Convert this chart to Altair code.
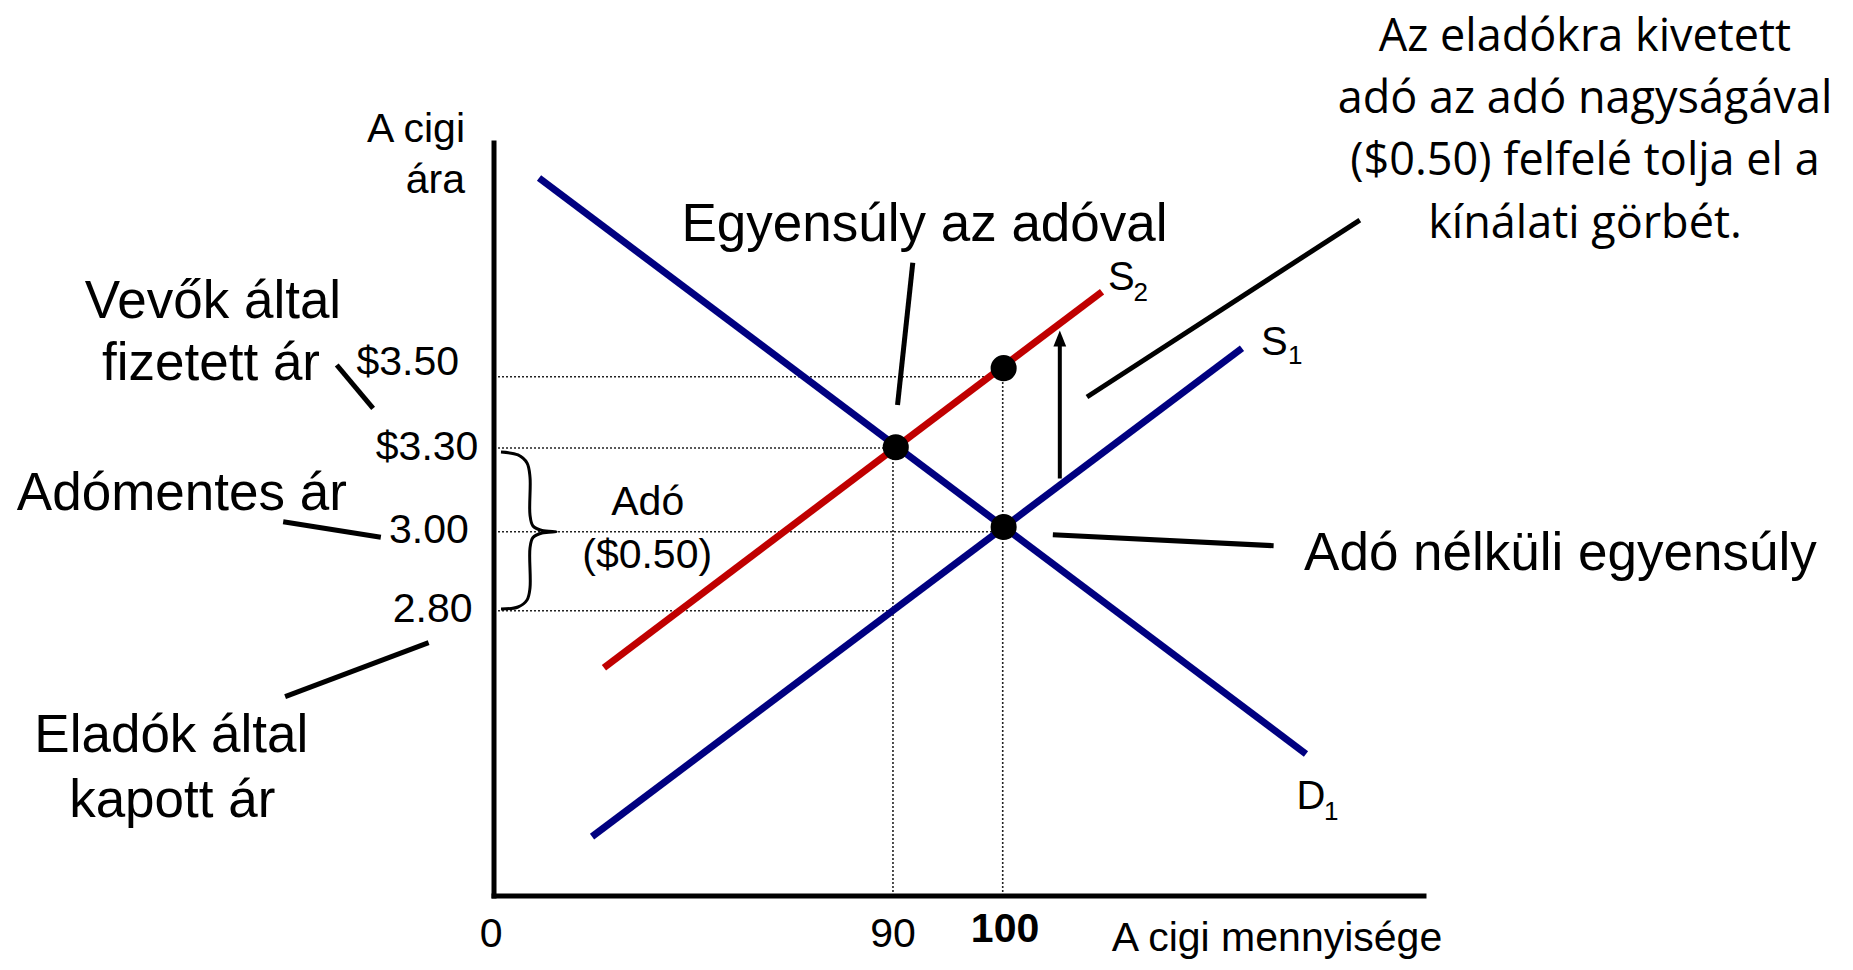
import altair as alt
import pandas as pd

# ---------------- data (diagram units: axis origin = 0, axis ends = 100) ----------------
curve_names = ["D1", "S1", "S2"]
curve_x0 = [4.84, 10.54, 11.82]
curve_y0 = [95.35, 7.88, 30.32]
curve_x1 = [87.31, 80.43, 65.38]
curve_y1 = [18.86, 72.75, 80.25]
curve_colors = ["#000080", "#000080", "#c00000"]

# price levels (dotted horizontal guides)
price_labels = ["$3.50", "$3.30", "3.00", "2.80"]
price_level = [68.96, 59.5, 48.38, 37.89]
price_guide_end = [54.7, 42.9, 54.7, 42.9]
price_label_x = [-3.76, -1.68, -2.71, -2.30]
price_label_y = [69.19, 57.90, 46.84, 36.43]

# quantity levels (dotted vertical guides)
qty_labels = ["0", "90", "100"]
qty_label_x = [-0.32, 42.90, 54.95]
qty_label_y = [-6.73, -6.73, -6.07]
qty_guide_x = [42.9, 54.7]
qty_guide_top = [59.5, 70.0]

# equilibrium points
dot_x = [43.2, 54.8, 54.8]
dot_y = [59.6, 49.0, 70.1]

# pointer lines (x0, y0, x1, y1)
ptr_x0 = [45.03, 63.76, 60.09, -16.91, -22.67, -7.03]
ptr_y0 = [84.10, 66.27, 47.99, 70.52, 49.71, 33.64]
ptr_x1 = [43.39, 93.10, 83.83, -13.00, -12.17, -22.46]
ptr_y1 = [65.20, 89.77, 46.52, 64.77, 47.64, 26.47]

# shift arrow
arrow_x = [60.84]
arrow_y0 = [55.45]
arrow_y1 = [73.3]
arrow_head_y = [74.05]

# brace between 3.30 and 2.80
brace_x = [0.75, 2.58, 3.55, 3.87, 3.87, 4.19, 5.16, 6.67, 5.16, 4.19, 3.87, 3.87, 3.55, 2.58, 0.75]
brace_y = [58.96, 58.57, 57.50, 55.64, 50.60, 49.14, 48.54, 48.38, 48.21, 47.61, 46.22, 40.90, 39.31, 38.38, 38.11]

# big annotations (Arial-like)
big_text = ["Vevők által", "fizetett ár", "Adómentes ár", "Eladók által", "kapott ár",
            "Egyensúly az adóval", "Adó nélküli egyensúly"]
big_x = [-30.22, -30.43, -33.57, -34.70, -34.60, 46.29, 114.67]
big_y = [76.72, 68.53, 51.26, 19.16, 10.53, 86.99, 43.35]

# axis titles
ytitle_text = ["A cigi", "ára"]
ytitle_x = [-3.12, -3.12]
ytitle_y = [100.17, 93.32]
xtitle_text = ["A cigi mennyisége"]
xtitle_x = [84.19]
xtitle_y = [-7.35]

# tax label
tax_text = ["Adó", "($0.50)"]
tax_x = [16.53, 16.47]
tax_y = [50.60, 43.52]

# right explanation
note_text = ["Az eladókra kivetett", "adó az adó nagyságával", "($0.50) felfelé tolja el a", "kínálati görbét."]
note_x = [117.31, 117.31, 117.31, 117.31]
note_y = [112.2, 104.0, 95.7, 87.45]

# curve labels with subscripts
clab_text = ["S", "S", "D"]
clab_x = [66.02, 82.47, 86.29]
clab_y = [80.48, 71.79, 11.55]
csub_text = ["2", "1", "1"]
csub_x = [68.77, 85.38, 89.25]
csub_y = [79.06, 70.61, 10.15]

# ---------------- chart ----------------
W, H = 1837, 952
XD = [-52.26, 145.27]
YD = [-8.50, 117.93]
xs = alt.Scale(domain=XD, nice=False, zero=False)
ys = alt.Scale(domain=YD, nice=False, zero=False)


def X(f="x"):
    return alt.X(f"{f}:Q", scale=xs, axis=None)


def Y(f="y"):
    return alt.Y(f"{f}:Q", scale=ys, axis=None)


FONT = "Liberation Sans"

hguides = alt.Chart(pd.DataFrame({"x": [0] * 4, "x1": price_guide_end, "y": price_level})).mark_rule(
    color="#222222", strokeWidth=1.6, strokeDash=[2, 2]
).encode(x=X(), x2=alt.X2("x1:Q"), y=Y())

vguides = alt.Chart(pd.DataFrame({"x": qty_guide_x, "y": [0, 0], "y1": qty_guide_top})).mark_rule(
    color="#222222", strokeWidth=1.6, strokeDash=[2, 2]
).encode(x=X(), y=Y(), y2=alt.Y2("y1:Q"))

curves = alt.Chart(pd.DataFrame({"name": curve_names, "x": curve_x0, "y": curve_y0,
                                 "x1": curve_x1, "y1": curve_y1})).mark_rule(strokeWidth=7).encode(
    x=X(), y=Y(), x2=alt.X2("x1:Q"), y2=alt.Y2("y1:Q"),
    color=alt.Color("name:N", scale=alt.Scale(domain=curve_names, range=curve_colors), legend=None),
)

axes = alt.Chart(pd.DataFrame({"x": [0, 0], "y": [0, 0], "x1": [100, 0], "y1": [0, 100]})).mark_rule(
    color="black", strokeWidth=5, strokeCap="square"
).encode(x=X(), y=Y(), x2=alt.X2("x1:Q"), y2=alt.Y2("y1:Q"))

brace = alt.Chart(pd.DataFrame({"x": brace_x, "y": brace_y, "o": list(range(len(brace_x)))})).mark_line(
    color="black", strokeWidth=3, interpolate="catmull-rom"
).encode(x=X(), y=Y(), order="o:Q")

pointers = alt.Chart(pd.DataFrame({"x": ptr_x0, "y": ptr_y0, "x1": ptr_x1, "y1": ptr_y1})).mark_rule(
    color="black", strokeWidth=5
).encode(x=X(), y=Y(), x2=alt.X2("x1:Q"), y2=alt.Y2("y1:Q"))

shaft = alt.Chart(pd.DataFrame({"x": arrow_x, "y": arrow_y0, "y1": arrow_y1})).mark_rule(
    color="black", strokeWidth=4
).encode(x=X(), y=Y(), y2=alt.Y2("y1:Q"))

head = alt.Chart(pd.DataFrame({"x": arrow_x, "y": arrow_head_y})).mark_point(
    shape="M0,-1L-0.8,1L0.8,1Z", filled=True, color="black", size=256, opacity=1
).encode(x=X(), y=Y())

dots = alt.Chart(pd.DataFrame({"x": dot_x, "y": dot_y})).mark_circle(
    color="black", size=680, opacity=1
).encode(x=X(), y=Y())


def texts(labels, xv, yv, size, align="center", font=FONT, weight="normal"):
    df = pd.DataFrame({"t": labels, "x": xv, "y": yv})
    return alt.Chart(df).mark_text(
        fontSize=size, align=align, baseline="alphabetic", font=font, fontWeight=weight, color="black"
    ).encode(x=X(), y=Y(), text="t:N")


t_big = texts(big_text, big_x, big_y, 53)
t_ytitle = texts(ytitle_text, ytitle_x, ytitle_y, 41, align="right")
t_xtitle = texts(xtitle_text, xtitle_x, xtitle_y, 41)
t_price = texts(price_labels, price_label_x, price_label_y, 41, align="right")
t_qty = texts(qty_labels[:2], qty_label_x[:2], qty_label_y[:2], 41)
t_qty_bold = texts(qty_labels[2:], qty_label_x[2:], qty_label_y[2:], 41, weight="bold")
t_tax = texts(tax_text, tax_x, tax_y, 41)
t_note = texts(note_text, note_x, note_y, 45, font="Open Sans")
t_clab = texts(clab_text, clab_x, clab_y, 40, align="left")
t_csub = texts(csub_text, csub_x, csub_y, 26, align="left")

chart = alt.layer(
    hguides, vguides, curves, axes, brace, pointers, shaft, head, dots,
    t_big, t_ytitle, t_xtitle, t_price, t_qty, t_qty_bold, t_tax, t_note, t_clab, t_csub,
).properties(
    width=W, height=H, padding=0, background="white",
    autosize=alt.AutoSizeParams(type="none"),
).configure_view(stroke=None)

chart.save("out.html", embed_options={"renderer": "svg", "actions": False})
